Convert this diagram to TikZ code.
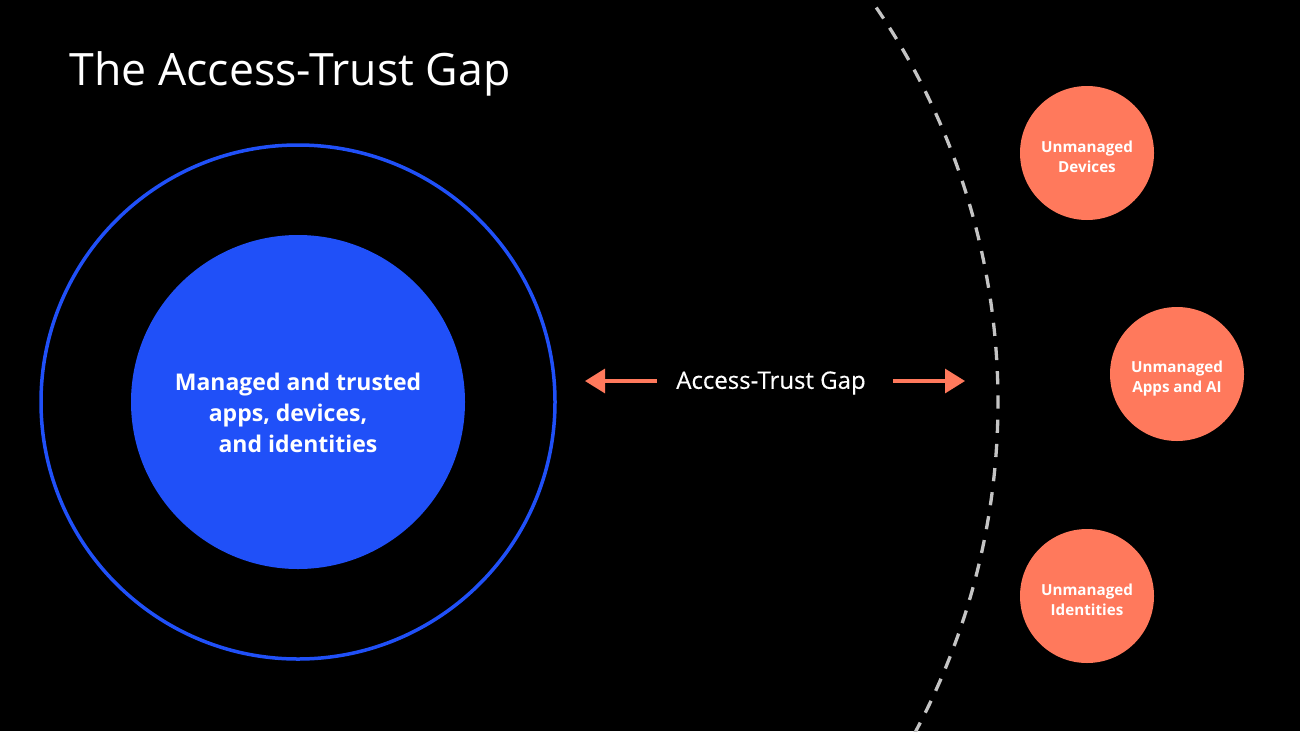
\documentclass[tikz,border=0pt]{standalone}
\usepackage{fontspec}
\setmainfont{Open Sans}
\newfontfamily\gapfont[FakeBold=0.35]{Open Sans}
\usetikzlibrary{arrows.meta}

\definecolor{trustblue}{HTML}{2050F8}
\definecolor{gaporange}{HTML}{FF795C}
\definecolor{dashgrey}{HTML}{C4C4C4}

\tikzset{
  unmanaged/.style={circle, fill=gaporange, minimum size=134pt, inner sep=0pt, align=center,
    text=white, text height=40pt, font=\fontsize{15.2}{20}\selectfont\bfseries},
  gaparrow/.style={draw=gaporange, line width=3.2pt, -{Triangle[length=20pt,width=24pt]}},
}

\begin{document}
\begin{tikzpicture}[x=1pt,y=-1pt]
  % Define the radius of the boundary
  \def\radius{700}

  % Background and page size
  \fill[black] (0,0) rectangle (1300,731);
  \path[use as bounding box,clip] (0,0) rectangle (1300,731);

  % Title
  \node[anchor=base west, inner sep=0pt, text=white, font=\fontsize{44.6}{50}\selectfont] (title) at (69.5,85) {The Access-Trust Gap};

  % Draw the trusted core
  \node[circle, draw=trustblue, line width=3.5pt, minimum size=514pt, inner sep=0pt] (outer) at (298,402) {};
  \node[circle, fill=trustblue, minimum size=334pt, inner sep=0pt, align=center, text=white, text height=102pt,
    font=\fontsize{23}{31}\selectfont\bfseries] (core) at (298,402)
    {Managed and trusted\\apps, devices,\rule{20pt}{0pt}\\and identities};

  % Draw the dashed boundary
  \draw[dashgrey, line width=3.3pt, dash pattern=on 13.2pt off 11.06pt]
    (outer.center) ++(-34.3:\radius) arc[start angle=-34.3, end angle=30, radius=\radius];

  % Draw the unmanaged circles
  \node[unmanaged] (devices) at (1087,153) {Unmanaged\\Devices};
  \node[unmanaged] (apps) at (1177,374) {Unmanaged\\Apps and AI};
  \node[unmanaged] (identities) at (1087,596) {Unmanaged\\Identities};

  % Draw the gap label and its arrows
  \node[text=white, inner sep=0pt, font=\fontsize{24}{28}\gapfont] (gap) at (771,383) {Access-Trust Gap};
  \coordinate (gapleft) at (585,381);
  \coordinate (gapright) at (965,381);
  \draw[gaparrow] (gap.west |- gapleft) ++(-19,0) -- (gapleft);
  \draw[gaparrow] (gap.east |- gapright) ++(27,0) -- (gapright);

\end{tikzpicture}
\end{document}
